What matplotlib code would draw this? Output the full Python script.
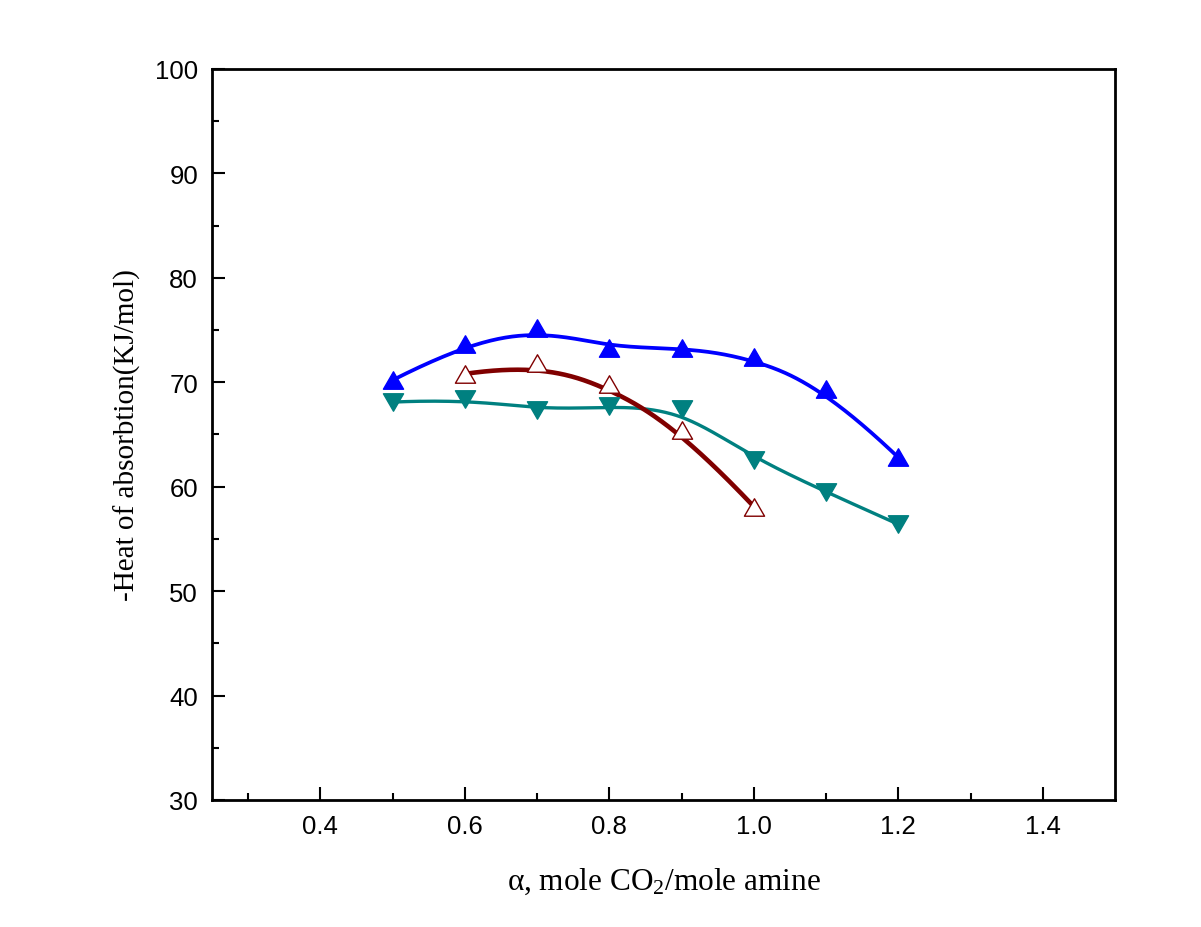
import matplotlib
matplotlib.use('Agg')
import matplotlib.pyplot as plt
from matplotlib.path import Path
import numpy as np

# Datos
alpha_a = [0.5, 0.6, 0.7, 0.8, 0.9, 1.0, 1.1, 1.2]
heat_a = [70.2, 73.7, 75.2, 73.3, 73.3, 72.4, 69.4, 62.8]

alpha_b = [0.5, 0.6, 0.7, 0.8, 0.9, 1.0, 1.1, 1.2]
heat_b = [68.1, 68.4, 67.3, 67.7, 67.4, 62.6, 59.5, 56.4]

alpha_c = [0.6, 0.7, 0.8, 0.9, 1.0]
heat_c = [70.8, 71.8, 69.8, 65.4, 58.1]

x_ticks = [0.4, 0.6, 0.8, 1.0, 1.2, 1.4]
y_ticks = [30, 40, 50, 60, 70, 80, 90, 100]

plt.rcParams['mathtext.fontset'] = 'custom'
plt.rcParams['mathtext.rm'] = 'Liberation Serif'
plt.rcParams['mathtext.default'] = 'rm'


def bspline(xs, ys, k=3, num=300):
    """Curva B-spline sujeta usando los puntos como puntos de control."""
    pts = np.column_stack([xs, ys]).astype(float)
    n = len(pts)
    k = min(k, n - 1)
    knots = np.concatenate([np.zeros(k), np.arange(n - k + 1), np.full(k, n - k)]).astype(float)
    t = np.linspace(0, n - k, num)
    t[-1] -= 1e-9

    def base(i, p):
        if p == 0:
            return ((knots[i] <= t) & (t < knots[i + 1])).astype(float)
        out = np.zeros_like(t)
        d1 = knots[i + p] - knots[i]
        d2 = knots[i + p + 1] - knots[i + 1]
        if d1 > 0:
            out += (t - knots[i]) / d1 * base(i, p - 1)
        if d2 > 0:
            out += (knots[i + p + 1] - t) / d2 * base(i + 1, p - 1)
        return out

    curva = sum(base(i, k)[:, None] * pts[i] for i in range(n))
    return curva[:, 0], curva[:, 1]


def triangulo(signo):
    verts = [(-1, -0.866 * signo), (1, -0.866 * signo), (0, 0.866 * signo), (0, 0)]
    codes = [Path.MOVETO, Path.LINETO, Path.LINETO, Path.CLOSEPOLY]
    return Path(verts, codes)


tri_up = triangulo(1)
tri_down = triangulo(-1)

fig = plt.figure(figsize=(12.01, 9.28), dpi=100)
ax = fig.add_axes([0.1765, 0.1369, 0.7519, 0.7877])

series = [
    (alpha_a, heat_a, '#0000FF', tri_up, '#0000FF', 2.7),
    (alpha_b, heat_b, '#008080', tri_down, '#008080', 2.4),
    (alpha_c, heat_c, '#800000', tri_up, 'white', 3.3),
]
for xs, ys, color, marker, face, lw in series:
    cx, cy = bspline(xs, ys)
    ax.plot(cx, cy, color=color, lw=lw, zorder=2, solid_capstyle='round')
    ax.plot(xs, ys, ls='none', marker=marker, markersize=14.5,
            markerfacecolor=face, markeredgecolor=color,
            markeredgewidth=1.0, zorder=3)

ax.set_xlim(0.25, 1.5)
ax.set_ylim(30, 100)
ax.set_xticks(x_ticks)
ax.set_xticklabels([f'{v:.1f}' for v in x_ticks])
ax.set_xticks([0.3, 0.5, 0.7, 0.9, 1.1, 1.3], minor=True)
ax.set_yticks(y_ticks)
ax.set_yticklabels([str(v) for v in y_ticks])
ax.set_yticks([35, 45, 55, 65, 75, 85, 95], minor=True)

ax.tick_params(which='both', direction='in', top=False, right=False,
               width=1.5, labelsize=18.5, pad=10)
ax.tick_params(which='major', length=9.5)
ax.tick_params(which='minor', length=5)
for lbl in ax.get_xticklabels() + ax.get_yticklabels():
    lbl.set_family('Liberation Sans')
for s in ax.spines.values():
    s.set_linewidth(2.0)

ax.set_xlabel(r'$\alpha$, mole CO$_2$/mole amine', family='Liberation Serif',
              fontsize=22.5, labelpad=20)
ax.set_ylabel('-Heat of absorbtion(KJ/mol)', family='Liberation Serif',
              fontsize=21, labelpad=10)

fig.savefig('out.png', dpi=100)
